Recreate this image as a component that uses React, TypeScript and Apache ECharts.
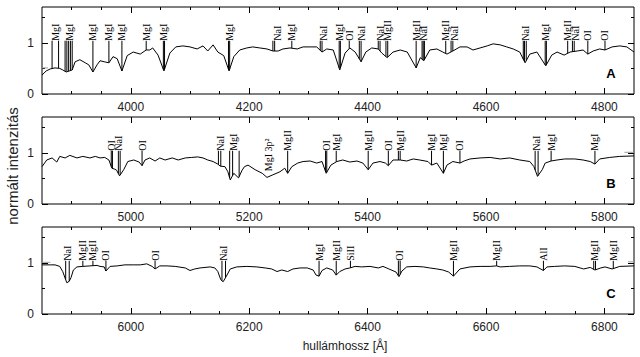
import { useEffect, useRef } from "react";
import * as echarts from "echarts";

type Pt = [number, number];
type Marker = [number, string, number[]];

const X_RANGES: [number, number][] = [
  [3850, 4850],
  [4850, 5850],
  [5850, 6850],
];
const Y_MAX = 1.7;
const MAJOR_X: number[][] = [
  [4000, 4200, 4400, 4600, 4800],
  [5000, 5200, 5400, 5600, 5800],
  [6000, 6200, 6400, 6600, 6800],
];
const Y_LABEL_TICKS = [0, 1];
const Y_MINOR_TICKS = [0.5, 1.5];
const PANEL_LETTERS = ["A", "B", "C"];
const LABEL_BASE = 1.04;
const Y_TITLE = "normált intenzitás";
const X_TITLE = "hullámhossz [Å]";

const specA: Pt[] = [
  [3850, 0.37], [3857, 0.45], [3864, 0.49], [3872, 0.51], [3880, 0.5], [3885, 0.47], [3891, 0.43], [3896, 0.45], [3901, 0.47],
  [3906, 0.63], [3914, 0.67], [3923, 0.61], [3929, 0.57], [3936, 0.43], [3943, 0.57], [3948, 0.65], [3955, 0.63], [3963, 0.61],
  [3970, 0.73], [3977, 0.69], [3985, 0.45], [3994, 0.75], [4004, 0.82], [4016, 0.78], [4026, 0.86], [4032, 0.86], [4037, 0.9],
  [4046, 0.76], [4056, 0.45], [4066, 0.8], [4076, 0.92], [4088, 0.94], [4100, 0.92], [4112, 0.88], [4122, 0.94], [4130, 0.84],
  [4139, 0.96], [4147, 0.82], [4157, 0.75], [4166, 0.45], [4174, 0.73], [4184, 0.86], [4196, 0.9], [4206, 0.92], [4218, 0.9],
  [4230, 0.88], [4240, 0.84], [4249, 0.84], [4257, 0.88], [4269, 0.9], [4281, 0.88], [4291, 0.92], [4303, 0.92], [4314, 0.92],
  [4323, 0.82], [4331, 0.88], [4342, 0.86], [4353, 0.47], [4362, 0.8], [4370, 0.9], [4379, 0.82], [4389, 0.63], [4397, 0.82],
  [4407, 0.9], [4418, 0.88], [4424, 0.8], [4433, 0.71], [4443, 0.82], [4455, 0.86], [4467, 0.82], [4482, 0.51], [4489, 0.71],
  [4495, 0.65], [4505, 0.86], [4517, 0.88], [4527, 0.82], [4534, 0.78], [4544, 0.84], [4556, 0.92], [4568, 0.92], [4578, 0.86],
  [4590, 0.9], [4602, 0.94], [4612, 0.98], [4624, 0.96], [4635, 0.92], [4646, 0.88], [4657, 0.82], [4666, 0.61], [4674, 0.78],
  [4686, 0.82], [4701, 0.55], [4711, 0.76], [4720, 0.82], [4732, 0.76], [4742, 0.82], [4754, 0.84], [4764, 0.86], [4772, 0.78],
  [4781, 0.84], [4792, 0.88], [4801, 0.86], [4813, 0.92], [4826, 0.94], [4838, 0.92], [4850, 0.82],
];

const specB: Pt[] = [
  [4850, 0.73], [4858, 0.86], [4867, 0.9], [4875, 0.82], [4880, 0.93], [4889, 0.9], [4897, 0.95], [4909, 0.9], [4919, 0.93],
  [4931, 0.9], [4940, 0.93], [4948, 0.9], [4956, 0.91], [4963, 0.86], [4968, 0.7], [4973, 0.68], [4976, 0.66], [4981, 0.55],
  [4988, 0.67], [4995, 0.83], [5005, 0.86], [5014, 0.82], [5019, 0.75], [5024, 0.86], [5032, 0.9], [5041, 0.84], [5049, 0.9],
  [5058, 0.86], [5070, 0.9], [5080, 0.86], [5092, 0.9], [5103, 0.91], [5113, 0.92], [5122, 0.9], [5130, 0.86], [5139, 0.83],
  [5147, 0.78], [5151, 0.74], [5159, 0.73], [5164, 0.63], [5168, 0.47], [5174, 0.6], [5182, 0.51], [5188, 0.66], [5192, 0.73],
  [5198, 0.76], [5210, 0.67], [5222, 0.6], [5230, 0.52], [5240, 0.57], [5252, 0.63], [5260, 0.7], [5265, 0.6], [5272, 0.73],
  [5282, 0.8], [5291, 0.83], [5303, 0.84], [5314, 0.8], [5323, 0.83], [5330, 0.6], [5338, 0.76], [5348, 0.83], [5358, 0.86],
  [5370, 0.82], [5382, 0.84], [5392, 0.8], [5401, 0.67], [5409, 0.8], [5421, 0.83], [5430, 0.8], [5435, 0.75], [5443, 0.86],
  [5455, 0.86], [5466, 0.84], [5477, 0.88], [5488, 0.86], [5502, 0.83], [5508, 0.76], [5517, 0.8], [5528, 0.6], [5534, 0.76],
  [5544, 0.83], [5556, 0.8], [5563, 0.84], [5573, 0.88], [5590, 0.9], [5607, 0.91], [5624, 0.88], [5640, 0.9], [5657, 0.86],
  [5674, 0.83], [5681, 0.73], [5687, 0.54], [5695, 0.67], [5700, 0.8], [5710, 0.84], [5720, 0.86], [5733, 0.88], [5750, 0.88],
  [5764, 0.86], [5776, 0.83], [5784, 0.78], [5792, 0.88], [5809, 0.91], [5826, 0.93], [5850, 0.94],
];

const specC: Pt[] = [
  [5850, 0.96], [5864, 0.96], [5872, 0.96], [5880, 0.93], [5885, 0.83], [5890, 0.67], [5892, 0.61], [5896, 0.64], [5899, 0.71],
  [5903, 0.86], [5909, 0.92], [5919, 0.93], [5931, 0.94], [5943, 0.95], [5948, 0.93], [5955, 0.92], [5958, 0.84], [5965, 0.93],
  [5977, 0.94], [5990, 0.96], [6004, 0.96], [6016, 0.96], [6027, 0.98], [6036, 0.93], [6041, 0.88], [6049, 0.94], [6061, 0.94],
  [6075, 0.93], [6092, 0.9], [6100, 0.85], [6108, 0.88], [6117, 0.9], [6134, 0.92], [6142, 0.9], [6147, 0.83], [6152, 0.67],
  [6156, 0.63], [6161, 0.73], [6168, 0.88], [6179, 0.92], [6196, 0.93], [6213, 0.92], [6227, 0.9], [6238, 0.88], [6247, 0.83],
  [6255, 0.86], [6265, 0.83], [6274, 0.88], [6286, 0.9], [6298, 0.9], [6308, 0.86], [6313, 0.76], [6318, 0.74], [6323, 0.85],
  [6331, 0.9], [6341, 0.86], [6347, 0.76], [6353, 0.83], [6362, 0.88], [6370, 0.9], [6379, 0.93], [6390, 0.92], [6404, 0.93],
  [6418, 0.9], [6426, 0.93], [6436, 0.88], [6448, 0.82], [6453, 0.73], [6458, 0.84], [6466, 0.92], [6480, 0.93], [6494, 0.92],
  [6505, 0.9], [6517, 0.88], [6527, 0.86], [6537, 0.82], [6545, 0.74], [6556, 0.88], [6573, 0.92], [6590, 0.93], [6607, 0.93],
  [6618, 0.94], [6624, 0.92], [6640, 0.93], [6657, 0.94], [6674, 0.94], [6686, 0.92], [6697, 0.85], [6703, 0.92], [6716, 0.93],
  [6733, 0.94], [6750, 0.93], [6759, 0.9], [6765, 0.88], [6776, 0.91], [6784, 0.86], [6794, 0.9], [6801, 0.92], [6813, 0.88],
  [6826, 0.93], [6850, 0.94],
];

// [label position (Å), label, line wavelengths (Å)]
const markersA: Marker[] = [
  [3872, "MgI", [3867, 3878]],
  [3897, "MgI", [3889, 3892, 3895, 3898, 3901]],
  [3936, "MgI", [3936]],
  [3963, "MgI", [3963]],
  [3985, "MgI", [3985]],
  [4026, "MgI", [4026]],
  [4056, "MgI", [4055, 4057]],
  [4166, "MgI", [4165, 4167]],
  [4248, "NaI", [4240, 4243]],
  [4272, "MgI", [4272]],
  [4325, "NaI", [4320, 4323]],
  [4353, "MgI", [4352, 4354]],
  [4369, "OI", [4369]],
  [4390, "NaI", [4386, 4389]],
  [4422, "NaI", [4418, 4421]],
  [4434, "MgII", [4431, 4434]],
  [4482, "MgII", [4482]],
  [4495, "NaI", [4492, 4494, 4496]],
  [4532, "MgII", [4532]],
  [4546, "NaI", [4541, 4544]],
  [4666, "NaI", [4663, 4665, 4668]],
  [4701, "MgI", [4700, 4702]],
  [4738, "MgII", [4738]],
  [4751, "NaI", [4746, 4749]],
  [4772, "OI", [4772]],
  [4801, "OI", [4801]],
];

const markersB: Marker[] = [
  [4968, "OI", [4967, 4969]],
  [4980, "NaI", [4979, 4982]],
  [5019, "OI", [5019]],
  [5151, "NaI", [5148, 5152]],
  [5174, "MgI", [5167, 5172, 5183]],
  [5265, "MgII", [5265]],
  [5330, "OI", [5329, 5331]],
  [5347, "MgI", [5347]],
  [5401, "MgII", [5401]],
  [5435, "OI", [5435]],
  [5455, "MgII", [5452, 5455]],
  [5508, "MgI", [5508]],
  [5528, "MgI", [5528]],
  [5556, "OI", [5556]],
  [5686, "NaI", [5683, 5688]],
  [5710, "MgI", [5710]],
  [5784, "MgI", [5784]],
];

const markersC: Marker[] = [
  [5893, "NaI", [5890, 5896]],
  [5919, "MgII", [5919]],
  [5936, "MgII", [5936]],
  [5958, "OI", [5958]],
  [6041, "OI", [6041]],
  [6157, "NaI", [6154, 6160]],
  [6318, "MgI", [6318]],
  [6347, "MgII", [6347]],
  [6371, "SiII", [6371]],
  [6454, "OI", [6452, 6455]],
  [6545, "MgII", [6545]],
  [6618, "MgII", [6618]],
  [6697, "AlI", [6697]],
  [6784, "MgII", [6782, 6785]],
  [6815, "MgII", [6815]],
];

// band label: [position (Å), text, base value]
const bandsB: [number, string, number][] = [[5232, "MgI 3p²", 0.64]];

// grey continuum stubs
const stubs: { panel: number; pts: Pt[] }[] = [
  { panel: 0, pts: [[3850, 0.51], [3860, 0.51]] },
  { panel: 1, pts: [[5834, 1.01], [5850, 1.01]] },
  { panel: 2, pts: [[5850, 1.01], [5864, 1.01]] },
  { panel: 2, pts: [[6840, 1.02], [6850, 1.02]] },
];

const SPECTRA = [specA, specB, specC];
const MARKERS = [markersA, markersB, markersC];

const GRID_TOPS = [7, 117, 227];
const GRID_H = 87;
const GRID_LEFT = 42;
const GRID_W = 592;

function interp(spec: Pt[], w: number): number {
  for (let i = 1; i < spec.length; i++) {
    if (spec[i][0] >= w) {
      const [x0, y0] = spec[i - 1];
      const [x1, y1] = spec[i];
      return y0 + ((y1 - y0) * (w - x0)) / (x1 - x0);
    }
  }
  return spec[spec.length - 1][1];
}

function buildOption() {
  const grids: any[] = [];
  const xAxes: any[] = [];
  const yAxes: any[] = [];
  const series: any[] = [];
  const labelFont = {
    fontSize: 12,
    color: "#222",
    fontFamily: "Liberation Sans, Arial, sans-serif",
    formatter: (v: number) => String(v),
  };

  X_RANGES.forEach(([min, max], gi) => {
    grids.push({
      left: GRID_LEFT,
      top: GRID_TOPS[gi],
      width: GRID_W,
      height: GRID_H,
      show: true,
      borderColor: "#000",
      borderWidth: 1,
      backgroundColor: "transparent",
    });
    const minor: number[] = [];
    for (let v = min + 50; v < max; v += 50) minor.push(v);
    const xb = { gridIndex: gi, type: "value", min, max, axisLine: { show: false, onZero: false }, splitLine: { show: false } };
    const tick = (vals: number[], len: number) => ({
      show: true, inside: true, length: len, customValues: vals, lineStyle: { color: "#000", width: 1 },
    });
    xAxes.push({ ...xb, position: "bottom", axisTick: tick(MAJOR_X[gi], 6), axisLabel: { show: true, customValues: MAJOR_X[gi], margin: 7, ...labelFont } });
    xAxes.push({ ...xb, position: "bottom", axisTick: tick(minor, 3), axisLabel: { show: false } });
    xAxes.push({ ...xb, position: "top", axisTick: tick(MAJOR_X[gi], 6), axisLabel: { show: false } });
    xAxes.push({ ...xb, position: "top", axisTick: tick(minor, 3), axisLabel: { show: false } });

    const yb = { gridIndex: gi, type: "value", min: 0, max: Y_MAX, axisLine: { show: false, onZero: false }, splitLine: { show: false } };
    yAxes.push({ ...yb, position: "left", axisTick: tick(Y_LABEL_TICKS, 6), axisLabel: { show: true, customValues: Y_LABEL_TICKS, margin: 8, ...labelFont } });
    yAxes.push({ ...yb, position: "left", axisTick: tick(Y_MINOR_TICKS, 3), axisLabel: { show: false } });
    yAxes.push({ ...yb, position: "right", axisTick: tick(Y_LABEL_TICKS, 6), axisLabel: { show: false } });
    yAxes.push({ ...yb, position: "right", axisTick: tick(Y_MINOR_TICKS, 3), axisLabel: { show: false } });

    const spec = SPECTRA[gi];
    const markers = MARKERS[gi];
    series.push({
      type: "line",
      xAxisIndex: gi * 4,
      yAxisIndex: gi * 4,
      data: spec,
      symbol: "none",
      showSymbol: false,
      lineStyle: { color: "#000", width: 1 },
      silent: true,
      z: 2,
    });
    series.push({
      type: "custom",
      xAxisIndex: gi * 4,
      yAxisIndex: gi * 4,
      data: markers.map((m) => [m[0], LABEL_BASE]),
      silent: true,
      z: 3,
      renderItem: (params: any, api: any) => {
        const m = markers[params.dataIndex];
        const children: any[] = [];
        const yTop = api.coord([m[0], LABEL_BASE])[1];
        m[2].forEach((w) => {
          const v = interp(spec, w);
          const p0 = api.coord([w, v]);
          if (p0[1] > yTop) {
            children.push({
              type: "line",
              shape: { x1: p0[0], y1: p0[1], x2: p0[0], y2: yTop },
              style: { stroke: "#000", lineWidth: 1 },
            });
          }
        });
        const pl = api.coord([m[0], LABEL_BASE]);
        children.push({
          type: "text",
          x: pl[0],
          y: pl[1],
          rotation: Math.PI / 2,
          style: {
            text: m[1],
            fontFamily: "Liberation Serif, Times New Roman, serif",
            fontSize: 10,
            fill: "#000",
            align: "left",
            verticalAlign: "middle",
          },
        });
        return { type: "group", children };
      },
    });
  });

  series.push({
    type: "custom",
    xAxisIndex: 4,
    yAxisIndex: 4,
    data: bandsB.map((b) => [b[0], b[2]]),
    silent: true,
    z: 3,
    renderItem: (params: any, api: any) => {
      const b = bandsB[params.dataIndex];
      const p = api.coord([b[0], b[2]]);
      return {
        type: "text",
        x: p[0],
        y: p[1],
        rotation: Math.PI / 2,
        style: {
          text: b[1],
          fontFamily: "Liberation Serif, Times New Roman, serif",
          fontSize: 10,
          fill: "#000",
          align: "left",
          verticalAlign: "middle",
        },
      };
    },
  });

  stubs.forEach((s) => {
    series.push({
      type: "line",
      xAxisIndex: s.panel * 4,
      yAxisIndex: s.panel * 4,
      data: s.pts,
      symbol: "none",
      lineStyle: { color: "#999", width: 1 },
      silent: true,
      z: 1,
    });
  });

  const graphic: any[] = PANEL_LETTERS.map((t, i) => ({
    type: "text",
    x: 611,
    y: GRID_TOPS[i] + 66,
    style: {
      text: t,
      fontFamily: "Liberation Sans, Arial, sans-serif",
      fontWeight: "bold",
      fontSize: 13,
      fill: "#000",
      align: "center",
      verticalAlign: "middle",
    },
  }));
  graphic.push({
    type: "text",
    x: 12,
    y: 166,
    rotation: Math.PI / 2,
    style: {
      text: Y_TITLE,
      fontFamily: "Liberation Sans, Arial, sans-serif",
      fontSize: 15,
      fill: "#222",
      align: "center",
      verticalAlign: "middle",
    },
  });
  graphic.push({
    type: "text",
    x: 345,
    y: 346,
    style: {
      text: X_TITLE,
      fontFamily: "Liberation Sans, Arial, sans-serif",
      fontSize: 12,
      fill: "#222",
      align: "center",
      verticalAlign: "middle",
    },
  });

  return {
    animation: false,
    backgroundColor: "#fff",
    grid: grids,
    xAxis: xAxes,
    yAxis: yAxes,
    series,
    graphic,
  };
}

export default function App() {
  const ref = useRef<HTMLDivElement>(null);
  useEffect(() => {
    document.body.style.margin = "0";
    if (!ref.current) return;
    const chart = echarts.init(ref.current, undefined, { renderer: "svg" });
    chart.setOption(buildOption() as any);
    return () => chart.dispose();
  }, []);
  return <div ref={ref} style={{ width: 640, height: 357 }} />;
}
